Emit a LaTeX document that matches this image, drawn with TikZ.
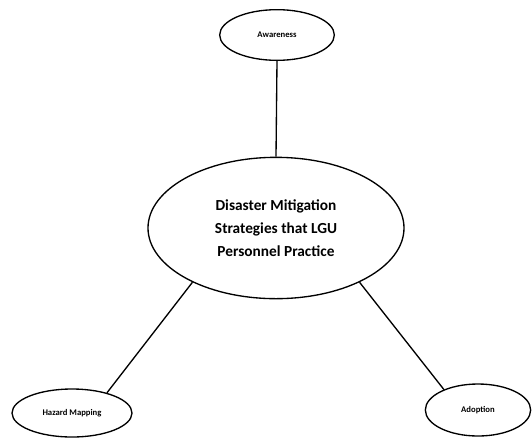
\documentclass[tikz,border=0pt]{standalone}
\usepackage{fontspec}
\setmainfont{Carlito}
\usetikzlibrary{shapes.geometric}

\tikzset{
  oval/.style={draw, ellipse, line width=1pt, inner sep=0pt, align=center, font=\bfseries\fontsize{6.5}{8}\selectfont},
  link/.style={line width=1pt}
}

\begin{document}
\begin{tikzpicture}[x=0.75pt, y=-0.75pt]
\useasboundingbox (0,0) rectangle (532,437);
\node[oval, minimum width=86pt, minimum height=38pt] (aware) at (277,35) {Awareness};
\node[oval, minimum width=192pt, minimum height=106pt, font=\bfseries\fontsize{11.5}{17}\selectfont] (core) at (276,228)
  {Disaster Mitigation\\Strategies that LGU\\Personnel Practice};
\node[oval, minimum width=90pt, minimum height=36pt] (hazard) at (72,413) {Hazard Mapping};
\node[oval, minimum width=79pt, minimum height=39pt] (adopt) at (478,410) {Adoption};
\draw[link] (aware.south) -- (core.north);
\draw[link] (core.213) -- (hazard.30);
\draw[link] (core.-33) -- (adopt.149);
\end{tikzpicture}
\end{document}
